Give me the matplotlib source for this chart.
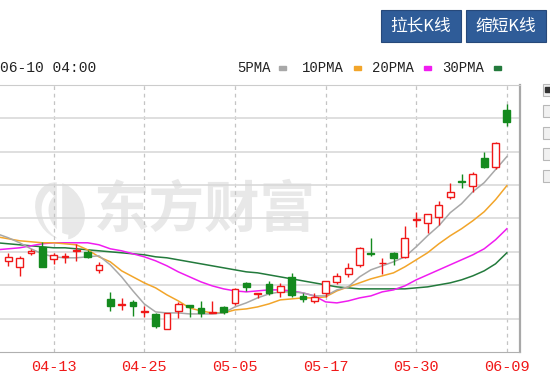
import matplotlib
matplotlib.use("Agg")
import matplotlib.pyplot as plt
from matplotlib.patches import Rectangle, Ellipse, Arc
import numpy as np

plt.rcParams['font.family'] = ['Liberation Mono', 'Noto Sans CJK SC', 'DejaVu Sans']

# daily candles, oldest first (45 bars)
opens = [12.73, 12.55, 12.97, 13.15, 12.79, 12.84, 13.03, 13.00, 12.46, 11.59,
         11.41, 11.50, 11.19, 11.14, 10.69, 11.23, 11.40, 11.32, 11.17, 11.35,
         11.47, 12.07, 11.73, 12.04, 11.80, 12.25, 11.68, 11.53, 11.77, 12.10,
         12.34, 12.61, 12.97, 12.66, 12.97, 12.85, 13.95, 13.87, 14.05, 14.65,
         15.12, 14.98, 15.82, 15.55, 17.26]
highs = [12.97, 12.88, 13.09, 13.30, 12.97, 12.97, 13.24, 13.06, 12.70, 11.80,
         11.62, 11.56, 11.38, 11.17, 11.17, 11.50, 11.41, 11.53, 11.53, 11.38,
         11.92, 12.10, 11.77, 12.13, 12.07, 12.37, 11.77, 11.77, 12.13, 12.37,
         12.67, 13.15, 13.42, 12.82, 13.00, 13.78, 14.20, 14.14, 14.53, 15.07,
         15.34, 15.40, 16.00, 16.30, 17.44]
lows = [12.58, 12.28, 12.91, 12.55, 12.64, 12.67, 12.73, 12.82, 12.37, 11.23,
        11.26, 11.08, 11.05, 10.72, 10.69, 11.02, 11.05, 11.05, 11.16, 11.14,
        11.41, 11.83, 11.62, 11.71, 11.65, 11.65, 11.50, 11.47, 11.65, 12.04,
        12.25, 12.55, 12.88, 12.34, 12.61, 12.82, 13.75, 13.57, 13.81, 14.59,
        14.92, 14.80, 15.52, 15.49, 16.78]
closes = [12.85, 12.82, 13.03, 12.55, 12.91, 12.87, 13.06, 12.85, 12.61, 11.38,
          11.44, 11.38, 11.22, 10.78, 11.17, 11.44, 11.35, 11.17, 11.20, 11.20,
          11.89, 11.95, 11.76, 11.77, 11.98, 11.71, 11.59, 11.65, 12.13, 12.28,
          12.52, 13.12, 12.94, 12.67, 12.82, 13.42, 13.98, 14.14, 14.41, 14.80,
          15.09, 15.34, 15.55, 16.27, 16.90]

# moving averages, starting one bar before the first visible candle
ma5 = [13.54, 13.42, 13.27, 13.09, 12.94, 12.85, 12.82, 12.82, 12.85, 12.88,
       12.61, 12.25, 11.83, 11.44, 11.20, 11.17, 11.17, 11.14, 11.14, 11.14,
       11.17, 11.35, 11.47, 11.62, 11.74, 11.80, 11.80, 11.77, 11.68, 11.68,
       11.86, 11.95, 12.25, 12.46, 12.58, 12.70, 12.85, 13.15, 13.48, 13.78,
       14.17, 14.44, 14.80, 15.07, 15.46, 15.85]
ma10 = [13.45, 13.39, 13.33, 13.30, 13.27, 13.27, 13.24, 13.21, 13.06, 12.85,
        12.70, 12.43, 12.25, 12.07, 11.92, 11.71, 11.53, 11.32, 11.23, 11.17,
        11.17, 11.26, 11.29, 11.35, 11.44, 11.56, 11.59, 11.62, 11.62, 11.65,
        11.83, 11.95, 12.07, 12.19, 12.28, 12.37, 12.55, 12.76, 12.97, 13.24,
        13.48, 13.69, 13.93, 14.20, 14.56, 14.98]
ma20 = [13.06, 13.09, 13.12, 13.18, 13.24, 13.27, 13.27, 13.27, 13.27, 13.21,
        13.09, 13.03, 12.94, 12.85, 12.73, 12.58, 12.40, 12.25, 12.10, 11.98,
        11.89, 11.83, 11.80, 11.83, 11.86, 11.86, 11.83, 11.77, 11.68, 11.50,
        11.47, 11.53, 11.62, 11.68, 11.80, 11.86, 11.98, 12.16, 12.31, 12.46,
        12.61, 12.76, 12.91, 13.09, 13.36, 13.69]
ma30 = [13.27, 13.24, 13.21, 13.18, 13.15, 13.12, 13.12, 13.09, 13.06, 13.03,
        13.00, 12.97, 12.94, 12.91, 12.85, 12.82, 12.76, 12.70, 12.64, 12.58,
        12.52, 12.46, 12.40, 12.37, 12.31, 12.25, 12.19, 12.13, 12.07, 12.01,
        11.95, 11.92, 11.89, 11.89, 11.89, 11.89, 11.89, 11.92, 11.95, 12.01,
        12.07, 12.16, 12.28, 12.43, 12.64, 12.97]

tick_idx = [4, 12, 20, 28, 36, 44]
tick_labels = ["04-13", "04-25", "05-05", "05-17", "05-30", "06-09"]

RED = "#f01818"
GREEN = "#148a1e"
MARK = "#e8e8e8"

fig = plt.figure(figsize=(5.5, 3.78), dpi=100, facecolor="white")

# background layer in pixel coordinates (watermark)
bg = fig.add_axes([0, 0, 1, 1])
bg.set_xlim(0, 550)
bg.set_ylim(378, 0)
bg.axis("off")
bg.add_patch(Ellipse((60, 211), 46, 58, angle=-25, color=MARK))
bg.add_patch(Arc((66, 214), 40, 50, angle=-25, theta1=110, theta2=260, color="white", lw=5))
bg.add_patch(Rectangle((57, 178), 4, 62, angle=0, color="white"))
bg.text(94, 211, "东方财富", family="Noto Sans CJK SC", fontweight="black",
        fontsize=40, color=MARK, va="center", ha="left")

ax = fig.add_axes([0, 26 / 378, 520 / 550, 267.2 / 378], facecolor="none")
ax.set_xlim(-0.733, 45.16)
ax.set_ylim(10, 18)

# grid
ax.set_yticks(range(11, 18))
ax.yaxis.grid(True, color="#d9d9d9", lw=1.2)
for t in tick_idx:
    ax.axvline(t, color="#c4c4c4", lw=0.9, ls=(0, (3, 3)), zorder=1)

ma_x = np.arange(-1, len(opens))
ax.plot(ma_x, ma30, color="#237a3c", lw=1.1, zorder=2)
ax.plot(ma_x, ma20, color="#f01cf0", lw=1.1, zorder=2)
ax.plot(ma_x, ma10, color="#f2a52a", lw=1.1, zorder=2)
ax.plot(ma_x, ma5, color="#a8a8a8", lw=1.1, zorder=2)

w = 0.6
for i, (o, h, l, c) in enumerate(zip(opens, highs, lows, closes)):
    lo, hi = min(o, c), max(o, c)
    hgt = max(hi - lo, 0.012)
    if c >= o:
        ax.vlines(i, hi, h, color=RED, lw=1, zorder=3)
        ax.vlines(i, l, lo, color=RED, lw=1, zorder=3)
        ax.add_patch(Rectangle((i - w / 2, lo), w, hgt, facecolor="white",
                               edgecolor=RED, lw=1, zorder=4))
    else:
        ax.vlines(i, l, h, color=GREEN, lw=1, zorder=3)
        ax.add_patch(Rectangle((i - w / 2, lo), w, hgt, facecolor=GREEN,
                               edgecolor=GREEN, lw=1, zorder=4))

ax.set_xticks(tick_idx)
ax.set_xticklabels(tick_labels, color=RED, fontsize=11)
ax.tick_params(axis="x", length=0, pad=6)
ax.tick_params(axis="y", length=0, labelleft=False)
ax.spines["left"].set_visible(False)
ax.spines["top"].set_color("#cccccc")
ax.spines["bottom"].set_color("#b0b0b0")
ax.spines["right"].set_color("#a8a8a8")
ax.spines["right"].set_linewidth(1.6)

# header, buttons and side boxes in pixel coordinates
ov = fig.add_axes([0, 0, 1, 1], facecolor="none")
ov.set_xlim(0, 550)
ov.set_ylim(378, 0)
ov.axis("off")

ov.text(0, 68, "06-10 04:00", fontsize=10.5, color="#222222", va="center", ha="left")
legend_items = [("5PMA", 237, "#a8a8a8"), ("10PMA", 302, "#f2a52a"),
                ("20PMA", 372, "#f01cf0"), ("30PMA", 442, "#237a3c")]
for name, x0, col in legend_items:
    ov.text(x0, 68, name, fontsize=10, color="#222222", va="center", ha="left")
    ov.add_patch(Rectangle((x0 + len(name) * 9.3 + 5, 66), 7, 4, color=col))

for x0, label in [(381, "拉长K线"), (466, "缩短K线")]:
    ov.add_patch(Rectangle((x0, 10), 80, 32, facecolor="#2f5c98", edgecolor="#27497a", lw=0.8))
    ov.text(x0 + 40, 26.5, label, family="Noto Sans CJK SC", fontsize=12,
            color="white", ha="center", va="center")

for y0 in [84, 105, 127, 148, 170]:
    ov.add_patch(Rectangle((543, y0), 12, 12, facecolor="#f1f1f1", edgecolor="#b8b8b8", lw=0.8))
ov.add_patch(Rectangle((545, 87), 5, 5, color="#333333"))

fig.savefig("out.png", dpi=100)
